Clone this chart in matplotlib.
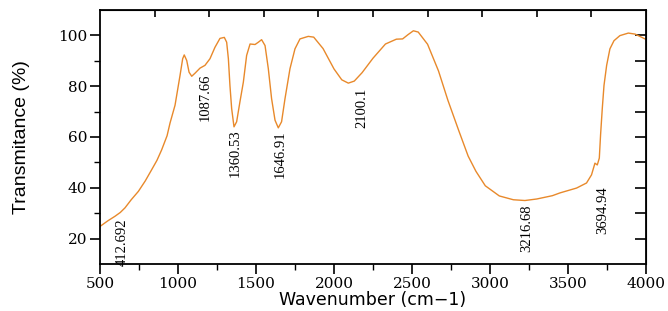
import numpy as np
import matplotlib
matplotlib.use('Agg')
import matplotlib.pyplot as plt
from matplotlib.ticker import MultipleLocator, FixedLocator

# FTIR spectrum (wavenumber cm-1, transmittance %)
wavenumber = [500, 550, 596, 630, 660, 700, 746, 790, 831, 865, 895, 930, 949,
              981, 1013, 1030, 1040, 1056, 1071, 1088, 1109, 1141, 1173, 1205,
              1237, 1269, 1297, 1312, 1323, 1333, 1344, 1359, 1376, 1397, 1419,
              1440, 1462, 1494, 1515, 1536, 1558, 1579, 1600, 1622, 1643, 1664,
              1686, 1718, 1750, 1782, 1835, 1870, 1930, 2000, 2050, 2092, 2130,
              2180, 2250, 2330, 2400, 2440, 2475, 2509, 2540, 2600, 2670, 2730,
              2800, 2860, 2910, 2970, 3060, 3150, 3224, 3300, 3400, 3449, 3555,
              3619, 3651, 3673, 3688, 3701, 3709, 3720, 3731, 3748, 3769, 3795,
              3833, 3887, 3930, 3994, 4000]
transmittance = [24.8, 27.0, 28.8, 30.3, 32.1, 35.3, 38.6, 42.7, 47.1, 50.8, 54.9, 60.5, 65.5,
                 72.5, 84.2, 90.8, 92.3, 90.1, 85.5, 83.9, 85.1, 87.1, 88.2, 90.8,
                 95.3, 98.8, 99.2, 97.3, 90.8, 80.3, 71.2, 64.0, 66.0, 73.8, 81.6,
                 92.1, 96.6, 96.4, 97.3, 98.3, 96.0, 86.9, 75.1, 66.6, 63.6, 66.0,
                 75.1, 86.9, 94.7, 98.6, 99.6, 99.3, 94.8, 86.8, 82.5, 81.2, 82.0,
                 85.3, 91.0, 96.6, 98.5, 98.6, 100.3, 101.8, 101.3, 96.5, 86.0, 74.5,
                 62.5, 52.5, 46.5, 40.8, 36.8, 35.3, 35.0, 35.6, 36.9, 38.0, 39.9,
                 41.9, 45.1, 49.7, 49.0, 51.7, 60.8, 71.2, 80.3, 88.2, 94.7, 97.9,
                 99.9, 100.9, 100.5, 98.6, 98.4]

# peak labels and where their text sits
peak_labels = ['412.692', '1087.66', '1360.53', '1646.91', '2100.1', '3216.68', '3694.94']
label_x = [641, 1173, 1365, 1654, 2178, 3235, 3725]
label_y = [18.6, 75.6, 53.7, 53.3, 71.5, 24.0, 31.0]

fig = plt.figure(figsize=(6.68, 3.11), dpi=100)
ax = fig.add_axes([0.1497, 0.151, 0.8173, 0.817])

ax.plot(wavenumber, transmittance, color='#E8892B', lw=1.0)

for txt, x, y in zip(peak_labels, label_x, label_y):
    ax.text(x, y, txt, rotation=90, ha='center', va='center',
            fontsize=10.5, family='Liberation Serif', color='black')

ax.set_xlim(500, 4000)
ax.set_ylim(10, 110)
ax.xaxis.set_major_locator(MultipleLocator(500))
ax.xaxis.set_minor_locator(MultipleLocator(250))
ax.yaxis.set_major_locator(FixedLocator([20, 40, 60, 80, 100]))
ax.yaxis.set_minor_locator(FixedLocator([30, 50, 70, 90]))

ax.tick_params(which='major', direction='out', length=7, width=1.2,
               labelsize=11, pad=2, top=False, right=False)
ax.tick_params(which='minor', direction='out', length=4, width=1.0,
               top=False, right=False)
for lab in ax.get_xticklabels() + ax.get_yticklabels():
    lab.set_family('DejaVu Serif')

# inward ticks on the top and right frame
top = ax.secondary_xaxis('top')
top.set_xticks([500 + 350 * k for k in range(1, 10)])
top.tick_params(direction='in', length=5, width=1.2, labeltop=False)
right = ax.secondary_yaxis('right')
right.set_yticks(np.arange(20, 101, 10))
right.tick_params(direction='in', length=8, width=1.2, labelright=False)

for sp in ax.spines.values():
    sp.set_linewidth(1.3)

ax.set_xlabel('Wavenumber (cm\u22121)', fontsize=12.5, family='DejaVu Sans', labelpad=0)
ax.set_ylabel('Transmitance (%)', fontsize=14, family='Liberation Sans', labelpad=20)

fig.savefig('out.png', dpi=100)
